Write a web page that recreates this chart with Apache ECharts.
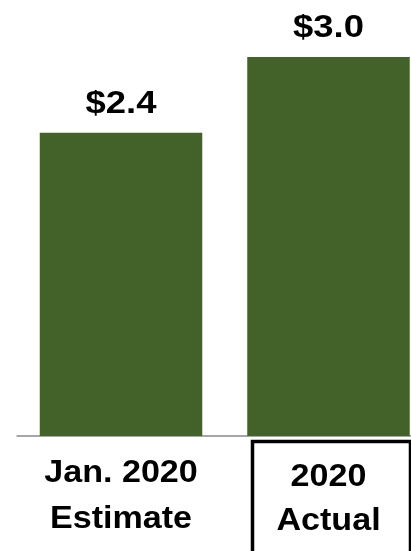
<!DOCTYPE html>
<html>
<head>
<meta charset="utf-8">
<script src="https://cdn.jsdelivr.net/npm/echarts@6/dist/echarts.min.js"></script>
<style>
  html, body { margin: 0; padding: 0; background: #ffffff; }
  #chart { width: 411px; height: 551px; }
</style>
</head>
<body>
<div id="chart"></div>
<script>
// Bar chart data
const categories = ['Jan. 2020\nEstimate', '2020\nActual'];
const values = [2.4, 3.0];
const boxedCategory = [false, true];

const FONT = '"Liberation Sans", Arial, Helvetica, sans-serif';
const BAR_COLOR = '#436229';

const chart = echarts.init(document.getElementById('chart'), null, { renderer: 'canvas' });

const labelData = values.map((v, i) => [i, v]);

chart.setOption({
  animation: false,
  backgroundColor: '#ffffff',
  // the plot runs past the right edge of the canvas, so it is not clamped
  grid: {
    left: 17.25, width: 415, top: 6.5, bottom: 115,
    containLabel: false,
    outerBoundsMode: 'none'
  },
  xAxis: {
    type: 'category',
    data: categories,
    axisLine: { show: true, lineStyle: { color: '#a6a6a6', width: 2 } },
    axisTick: { show: false },
    axisLabel: { show: false },
    splitLine: { show: false }
  },
  yAxis: {
    type: 'value',
    min: 0,
    max: 3.4,
    show: false,
    splitLine: { show: false }
  },
  series: [
    {
      type: 'bar',
      data: values,
      barWidth: 162.5,
      itemStyle: { color: BAR_COLOR },
      silent: true
    },
    {
      // value labels, category labels and the outlined category box
      type: 'custom',
      silent: true,
      clip: false,
      data: labelData,
      encode: { x: 0, y: 1 },
      renderItem: function (params, api) {
        const i = api.value(0);
        const v = api.value(1);
        const top = api.coord([i, v]);
        const base = api.coord([i, 0]);
        const children = [];
        children.push({
          type: 'text',
          x: top[0],
          y: top[1] - 28.5,
          scaleX: 1.14,
          style: {
            text: '$' + v.toFixed(1),
            font: 'bold 32px ' + FONT,
            fill: '#000000',
            textAlign: 'center',
            textVerticalAlign: 'middle'
          }
        });
        const boxed = boxedCategory[i];
        children.push({
          type: 'text',
          x: base[0],
          y: base[1] + (boxed ? 19 : 14),
          scaleX: 1.1,
          style: {
            text: categories[i],
            font: 'bold 31px ' + FONT,
            lineHeight: boxed ? 44 : 46,
            fill: '#000000',
            textAlign: 'center',
            textVerticalAlign: 'top'
          }
        });
        if (boxed) {
          children.push({
            type: 'rect',
            shape: { x: base[0] - 76, y: base[1] + 5.5, width: 158, height: 200 },
            style: { fill: 'none', stroke: '#000000', lineWidth: 3.5 }
          });
        }
        return { type: 'group', children: children };
      }
    }
  ]
});
</script>
</body>
</html>
